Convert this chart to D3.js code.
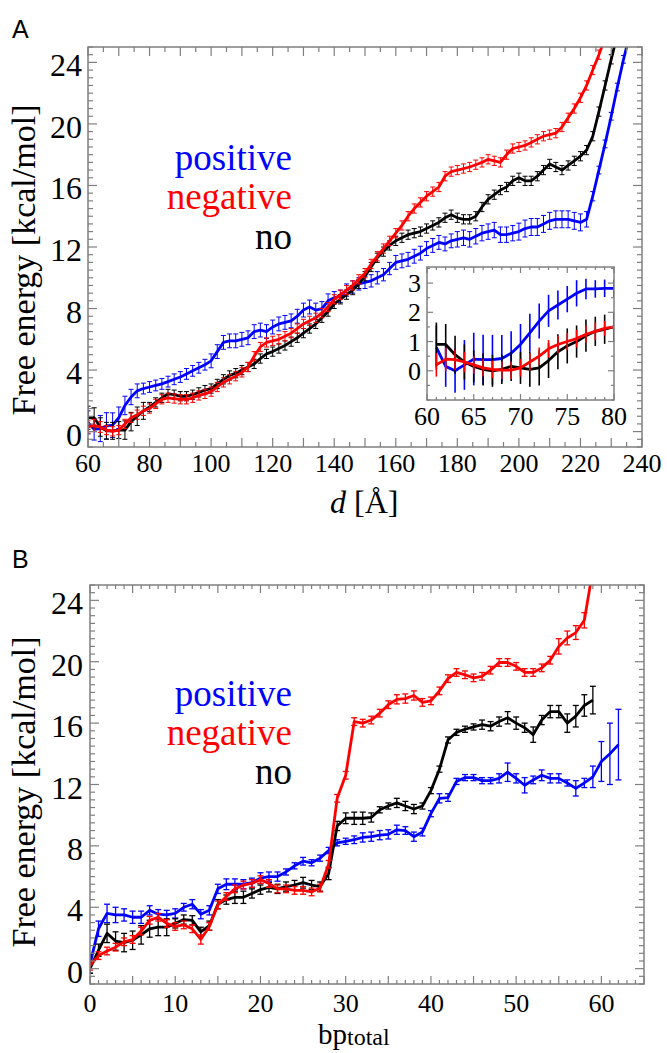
<!DOCTYPE html>
<html><head><meta charset="utf-8">
<script src="https://cdn.jsdelivr.net/npm/d3@7"></script>
<style>body{margin:0;background:#fff}svg{display:block}</style>
</head><body>
<script>
// ---------- Panel A data (d in Å, free energy kcal/mol) ----------
const dBlueA = d3.range(60, 237, 2);
const blueA = [0.6,0.15,0.2,0.38,0.42,0.9,1.7,2.25,2.65,2.8,
 2.9,3.0,3.1,3.25,3.4,3.55,3.75,3.95,4.15,4.35,
 4.6,5.2,5.8,5.9,5.9,6.0,6.1,6.5,6.6,6.5,
 6.8,7.0,7.1,7.2,7.5,7.9,8.1,7.9,8.0,8.5,
 8.7,8.8,9.2,9.4,9.6,9.7,9.8,10.0,10.2,10.6,
 11.0,11.1,11.2,11.4,11.6,11.9,12.1,12.3,12.2,12.4,
 12.5,12.6,12.5,12.7,12.9,13.0,13.1,12.8,12.8,12.9,
 13.0,13.2,13.3,13.3,13.5,13.7,13.8,13.8,13.8,13.7,
 13.6,13.8,15.3,17.0,18.7,20.5,22.4,24.2,25.8];
const blueErrA = [0.75,0.7,0.85,0.85,0.8,0.7,0.6,0.5,0.45,0.35,
 0.35,0.35,0.35,0.35,0.35,0.35,0.35,0.35,0.35,0.35,
 0.45,0.45,0.45,0.45,0.45,0.45,0.45,0.45,0.45,0.45,
 0.45,0.45,0.45,0.45,0.45,0.45,0.45,0.45,0.45,0.45,
 0.4,0.4,0.4,0.4,0.4,0.4,0.4,0.4,0.4,0.4,
 0.45,0.45,0.45,0.45,0.45,0.45,0.45,0.45,0.45,0.45,
 0.5,0.5,0.5,0.5,0.5,0.5,0.5,0.5,0.5,0.5,
 0.55,0.55,0.55,0.55,0.55,0.55,0.55,0.55,0.55,0.55,
 0.55,0.5,0.3,0.25,0.25,0.25,0.25,0.25,0.25];

const dRedA = d3.range(60, 229, 2);
const redA = [0.3,0.4,0.3,0.1,0.02,0.1,0.5,0.9,1.1,1.35,
 1.5,1.8,2.1,2.2,2.15,2.1,2.1,2.2,2.35,2.45,
 2.6,2.9,3.2,3.4,3.6,3.85,4.2,4.9,5.5,5.8,
 5.9,6.0,6.2,6.4,6.7,7.0,7.2,7.4,7.7,8.1,
 8.6,8.9,9.2,9.5,9.9,10.3,10.9,11.4,11.9,12.4,
 12.9,13.4,14.0,14.5,14.9,15.3,15.6,15.9,16.6,16.9,
 17.0,17.1,17.2,17.35,17.5,17.7,17.6,17.5,18.0,18.4,
 18.5,18.6,18.8,19.0,19.2,19.3,19.4,19.8,20.4,21.0,
 21.7,22.5,23.5,24.5,25.6];
const redErrA = [0.4,0.4,0.35,0.3,0.3,0.3,0.3,0.3,0.3,0.3,
 0.3,0.3,0.3,0.3,0.3,0.3,0.3,0.3,0.3,0.3,
 0.3,0.3,0.3,0.3,0.3,0.3,0.3,0.3,0.3,0.3,
 0.3,0.3,0.3,0.3,0.3,0.3,0.3,0.3,0.3,0.3,
 0.3,0.3,0.3,0.3,0.3,0.3,0.3,0.3,0.3,0.3,
 0.3,0.3,0.3,0.3,0.3,0.3,0.3,0.3,0.3,0.3,
 0.3,0.3,0.3,0.3,0.3,0.3,0.3,0.3,0.3,0.3,
 0.3,0.3,0.3,0.3,0.3,0.3,0.3,0.3,0.3,0.3,
 0.3,0.3,0.3,0.3,0.3];

const dBlackA = d3.range(60, 233, 2);
const blackA = [0.9,0.9,0.3,0.05,0.05,0.1,0.1,0.65,1.0,1.35,
 1.6,1.9,2.2,2.45,2.4,2.3,2.3,2.4,2.55,2.7,
 2.8,3.1,3.4,3.65,3.8,4.0,4.2,4.4,4.75,5.05,
 5.2,5.4,5.6,5.85,6.1,6.4,6.7,7.0,7.4,7.8,
 8.3,8.6,8.9,9.2,9.6,10.1,10.7,11.3,11.7,12.1,
 12.4,12.6,12.8,12.9,13.0,13.2,13.4,13.6,13.9,14.1,
 13.9,13.8,13.8,14.0,14.6,15.1,15.4,15.7,15.9,16.3,
 16.5,16.3,16.3,16.6,17.0,17.4,17.2,17.0,17.3,17.6,
 17.9,18.3,19.2,20.8,22.5,24.2,25.8];
const blackErrA = [0.75,0.65,0.6,0.55,0.55,0.55,0.6,0.6,0.6,0.55,
 0.3,0.3,0.3,0.3,0.3,0.3,0.3,0.3,0.3,0.3,
 0.3,0.3,0.3,0.3,0.3,0.3,0.3,0.3,0.3,0.3,
 0.3,0.3,0.3,0.3,0.3,0.3,0.3,0.3,0.3,0.3,
 0.3,0.3,0.3,0.3,0.3,0.3,0.3,0.3,0.3,0.3,
 0.3,0.3,0.3,0.3,0.3,0.3,0.3,0.3,0.3,0.3,
 0.3,0.3,0.3,0.3,0.3,0.3,0.3,0.3,0.3,0.3,
 0.3,0.3,0.3,0.3,0.3,0.3,0.3,0.3,0.3,0.3,
 0.3,0.3,0.3,0.3,0.3,0.3,0.3];

// ---------- Inset data (d = 61..80) ----------
const dInset = d3.range(61, 81, 1);
const blueIn = [0.8,0.15,0.0,0.2,0.4,0.38,0.38,0.42,0.6,0.9,1.3,1.7,2.05,2.25,2.45,2.65,2.8,2.8,2.82,2.82];
const blueInErr = [0.75,0.7,0.75,0.85,0.9,0.85,0.85,0.8,0.75,0.7,0.65,0.6,0.55,0.5,0.45,0.45,0.35,0.3,0.3,0.3];
const blackIn = [0.9,0.9,0.55,0.3,0.15,0.05,0.0,0.05,0.15,0.1,0.05,0.1,0.35,0.65,0.85,1.0,1.2,1.35,1.42,1.5];
const blackInErr = [0.75,0.7,0.65,0.6,0.55,0.55,0.55,0.5,0.5,0.55,0.6,0.6,0.6,0.6,0.6,0.55,0.55,0.5,0.5,0.5];
const redIn = [0.2,0.4,0.38,0.3,0.2,0.1,0.05,0.02,0.02,0.1,0.3,0.5,0.75,0.9,1.0,1.1,1.25,1.35,1.45,1.5];
const redInErr = [0.4,0.4,0.35,0.35,0.3,0.3,0.3,0.3,0.3,0.3,0.3,0.3,0.3,0.3,0.3,0.3,0.3,0.3,0.25,0.25];

// ---------- Panel B data (bp_total) ----------
const bpBlue = d3.range(0, 63, 1);
const blueB = [0.3,2.6,3.6,3.5,3.5,3.35,3.35,3.8,3.55,3.5,
 3.6,4.0,4.2,3.55,3.8,5.2,5.5,5.5,5.5,5.6,
 5.9,6.0,6.0,6.3,6.7,7.0,6.9,7.2,7.7,8.2,
 8.3,8.4,8.55,8.6,8.7,8.75,9.05,9.0,8.6,8.9,
 10.1,11.1,11.15,12.2,12.45,12.45,12.25,12.25,12.4,12.8,
 12.4,11.95,12.3,12.6,12.4,12.4,12.1,11.75,12.1,12.5,
 13.5,14.0,14.6];
const blueErrB = [0.6,0.5,0.6,0.5,0.4,0.4,0.4,0.3,0.3,0.3,
 0.3,0.25,0.3,0.3,0.3,0.3,0.35,0.35,0.3,0.3,
 0.35,0.3,0.3,0.2,0.2,0.25,0.2,0.2,0.2,0.2,
 0.2,0.25,0.3,0.3,0.3,0.3,0.3,0.25,0.3,0.25,
 0.2,0.3,0.25,0.2,0.2,0.2,0.2,0.2,0.3,0.6,
 0.3,0.5,0.25,0.35,0.3,0.3,0.2,0.5,0.3,0.7,
 1.3,2.0,2.3];

const bpBlack = d3.range(0, 60, 1);
const blackB = [0.0,1.2,2.3,1.8,1.7,1.85,2.2,2.6,2.7,2.7,
 2.95,3.2,3.15,2.4,2.8,4.2,4.5,4.65,4.65,4.9,
 5.15,5.3,5.2,5.35,5.45,5.6,5.45,5.35,6.2,9.3,
 9.8,9.8,9.8,9.85,10.35,10.6,10.8,10.6,10.4,10.6,
 11.6,13.0,14.9,15.4,15.6,15.75,15.9,15.8,16.1,16.35,
 16.0,15.7,15.25,16.2,16.75,16.75,16.0,16.45,17.15,17.5];
const blackErrB = [0.3,0.4,0.6,0.6,0.6,0.6,0.6,0.55,0.55,0.55,
 0.3,0.3,0.3,0.3,0.3,0.3,0.3,0.4,0.4,0.3,
 0.3,0.3,0.3,0.3,0.3,0.35,0.3,0.3,0.4,0.3,
 0.35,0.4,0.4,0.3,0.2,0.2,0.3,0.3,0.3,0.2,
 0.2,0.2,0.2,0.2,0.2,0.2,0.3,0.3,0.3,0.4,
 0.4,0.3,0.5,0.3,0.4,0.4,0.6,0.7,0.7,0.9];

const bpRed = d3.range(0, 60, 1);
const redB = [0.2,0.85,1.15,1.4,1.75,1.9,2.45,3.15,3.35,2.95,
 2.75,2.85,2.6,1.9,2.75,4.15,4.7,5.2,5.45,5.55,
 5.8,5.55,5.2,5.2,5.1,5.1,5.0,5.25,6.8,11.1,
 12.6,16.1,16.0,16.2,16.65,17.2,17.55,17.6,17.8,17.35,
 17.45,18.1,18.9,19.3,19.15,18.95,19.05,19.45,19.95,19.95,
 19.7,19.3,19.3,19.6,20.1,21.0,21.55,21.9,22.7,26.0];
const redErrB = [0.3,0.25,0.25,0.25,0.25,0.25,0.25,0.25,0.25,0.25,
 0.25,0.25,0.25,0.3,0.25,0.25,0.25,0.25,0.25,0.25,
 0.25,0.25,0.25,0.25,0.25,0.25,0.25,0.25,0.25,0.25,
 0.25,0.25,0.25,0.25,0.25,0.25,0.3,0.3,0.3,0.25,
 0.25,0.25,0.25,0.25,0.25,0.25,0.25,0.25,0.25,0.25,
 0.25,0.25,0.25,0.25,0.25,0.5,0.45,0.45,0.5,0.5];

const legendLabels = ["positive", "negative", "no"];
const legendColors = ["#0000ff", "#ff0000", "#000000"];
const yTicksMain = [0, 4, 8, 12, 16, 20, 24];
const xTicksA = [60, 80, 100, 120, 140, 160, 180, 200, 220, 240];
const xTicksB = [0, 10, 20, 30, 40, 50, 60];
const xTicksIn = [60, 65, 70, 75, 80];
const yTicksIn = [0, 1, 2, 3];

// ---------- drawing ----------
const SERIF = "'Liberation Serif','Times New Roman',serif";
const SANS = "'Liberation Sans',Arial,sans-serif";
const AXC = "#7f7f7f";
const svg = d3.select("body").append("svg").attr("width", 667).attr("height", 1053);

let clipId = 0;
function makeClip(x0, y0, w, h) {
  const id = "clip" + (clipId++);
  svg.append("clipPath").attr("id", id).append("rect")
    .attr("x", x0).attr("y", y0).attr("width", w).attr("height", h);
  return "url(#" + id + ")";
}

function ticksFrame(g, sx, sy, xMinor, xMajor, yMinor, yMajor, lx, LX, ly, LY) {
  const [x0, x1] = sx.range(), [y0, y1] = sy.range(); // y0 bottom, y1 top
  const tg = g.append("g").attr("stroke", AXC).attr("stroke-width", 1.2);
  const xs = xMinor.map(v => ({ v, L: xMajor.includes(v) ? LX : lx }));
  tg.selectAll("line.xb").data(xs).join("line").attr("class", "xb")
    .attr("x1", d => sx(d.v)).attr("x2", d => sx(d.v)).attr("y1", y0).attr("y2", d => y0 - d.L);
  tg.selectAll("line.xt").data(xs).join("line").attr("class", "xt")
    .attr("x1", d => sx(d.v)).attr("x2", d => sx(d.v)).attr("y1", y1).attr("y2", d => y1 + d.L);
  const ys = yMinor.map(v => ({ v, L: yMajor.includes(v) ? LY : ly }));
  tg.selectAll("line.yl").data(ys).join("line").attr("class", "yl")
    .attr("y1", d => sy(d.v)).attr("y2", d => sy(d.v)).attr("x1", x0).attr("x2", d => x0 + d.L);
  tg.selectAll("line.yr").data(ys).join("line").attr("class", "yr")
    .attr("y1", d => sy(d.v)).attr("y2", d => sy(d.v)).attr("x1", x1).attr("x2", d => x1 - d.L);
  g.append("rect").attr("x", x0).attr("y", y1).attr("width", x1 - x0).attr("height", y0 - y1)
    .attr("fill", "none").attr("stroke", AXC).attr("stroke-width", 1.5);
}

function series(g, xs, ys, es, sx, sy, color, lw, cap, ebw) {
  const pts = xs.map((x, i) => ({ x, y: ys[i], e: es[i] }));
  const eg = g.append("g").attr("stroke", color).attr("stroke-width", ebw);
  eg.selectAll("line.v").data(pts).join("line").attr("class", "v")
    .attr("x1", d => sx(d.x)).attr("x2", d => sx(d.x))
    .attr("y1", d => sy(d.y - d.e)).attr("y2", d => sy(d.y + d.e));
  if (cap > 0) {
    eg.selectAll("line.ct").data(pts).join("line").attr("class", "ct")
      .attr("x1", d => sx(d.x) - cap).attr("x2", d => sx(d.x) + cap)
      .attr("y1", d => sy(d.y + d.e)).attr("y2", d => sy(d.y + d.e));
    eg.selectAll("line.cb").data(pts).join("line").attr("class", "cb")
      .attr("x1", d => sx(d.x) - cap).attr("x2", d => sx(d.x) + cap)
      .attr("y1", d => sy(d.y - d.e)).attr("y2", d => sy(d.y - d.e));
  }
  g.append("path").datum(pts).attr("fill", "none").attr("stroke", color)
    .attr("stroke-width", lw).attr("stroke-linejoin", "round")
    .attr("d", d3.line().x(d => sx(d.x)).y(d => sy(d.y)));
}

function yLabel(cx, cy) {
  svg.append("text").attr("transform", `translate(${cx},${cy}) rotate(-90)`)
    .attr("text-anchor", "middle").attr("font-family", SERIF).attr("font-size", 34)
    .attr("fill", "#000").text("Free energy [kcal/mol]");
}

function legend(xRight, baselines) {
  svg.append("g").selectAll("text").data(legendLabels).join("text")
    .attr("x", xRight).attr("y", (d, i) => baselines[i])
    .attr("text-anchor", "end").attr("font-family", SERIF).attr("font-size", 37)
    .attr("fill", (d, i) => legendColors[i]).text(d => d);
}

function range(a, b, s) { return d3.range(a, b + s / 2, s).map(v => +v.toFixed(3)); }

// ===== Panel A =====
const sxA = d3.scaleLinear().domain([60, 240]).range([88, 642]);
const syA = d3.scaleLinear().domain([-1, 25]).range([447, 47]);
const gA = svg.append("g");
const plotA = gA.append("g").attr("clip-path", makeClip(88, 47, 554, 400));
series(plotA, dBlueA, blueA, blueErrA, sxA, syA, "#0000ff", 2.8, 2.5, 1);
series(plotA, dBlackA, blackA, blackErrA, sxA, syA, "#000000", 2.8, 2.5, 1);
series(plotA, dRedA, redA, redErrA, sxA, syA, "#ff0000", 2.8, 2.5, 1);
ticksFrame(gA, sxA, syA, range(60, 240, 5), range(60, 240, 10), range(-1, 25, 0.5), yTicksMain, 5, 9, 5, 9);
gA.append("g").selectAll("text").data(yTicksMain).join("text")
  .attr("x", 82).attr("y", d => syA(d) + 14).attr("text-anchor", "end")
  .attr("font-family", SERIF).attr("font-size", 32).text(d => d);
gA.append("g").selectAll("text").data(xTicksA).join("text")
  .attr("x", d => sxA(d)).attr("y", 472).attr("text-anchor", "middle")
  .attr("font-family", SERIF).attr("font-size", 26).text(d => d);
const xlA = svg.append("text").attr("x", 330).attr("y", 513).attr("font-family", SERIF).attr("font-size", 32);
xlA.append("tspan").attr("font-style", "italic").text("d");
xlA.append("tspan").text(" [Å]");
yLabel(35, 260);
legend(292, [170, 209, 249]);
svg.append("text").attr("x", 12).attr("y", 38).attr("font-family", SANS).attr("font-size", 25).text("A");

// ----- Inset -----
const sxI = d3.scaleLinear().domain([60, 80]).range([427, 614]);
const syI = d3.scaleLinear().domain([-1, 3.55]).range([400, 267]);
const gI = svg.append("g");
gI.append("rect").attr("x", 427).attr("y", 267).attr("width", 187).attr("height", 133).attr("fill", "#fff");
const plotI = gI.append("g").attr("clip-path", makeClip(427, 267, 187, 133));
series(plotI, dInset, blueIn, blueInErr, sxI, syI, "#0000ff", 2.8, 0, 1.6);
series(plotI, dInset, blackIn, blackInErr, sxI, syI, "#000000", 2.8, 0, 1.6);
series(plotI, dInset, redIn, redInErr, sxI, syI, "#ff0000", 2.8, 0, 1.6);
ticksFrame(gI, sxI, syI, range(60, 80, 1), xTicksIn, range(-1, 3.5, 0.5), yTicksIn, 3, 6, 3, 6);
gI.append("g").selectAll("text").data(yTicksIn).join("text")
  .attr("x", 421).attr("y", d => syI(d) + 9).attr("text-anchor", "end")
  .attr("font-family", SERIF).attr("font-size", 26).text(d => d);
gI.append("g").selectAll("text").data(xTicksIn).join("text")
  .attr("x", d => sxI(d)).attr("y", 425).attr("text-anchor", "middle")
  .attr("font-family", SERIF).attr("font-size", 26).text(d => d);

// ===== Panel B =====
const sxB = d3.scaleLinear().domain([0, 65]).range([90, 644]);
const syB = d3.scaleLinear().domain([-1, 25]).range([984, 585]);
const gB = svg.append("g");
const plotB = gB.append("g").attr("clip-path", makeClip(90, 585, 554, 399));
series(plotB, bpBlue, blueB, blueErrB, sxB, syB, "#0000ff", 2.8, 3, 1.3);
series(plotB, bpBlack, blackB, blackErrB, sxB, syB, "#000000", 2.8, 3, 1.3);
series(plotB, bpRed, redB, redErrB, sxB, syB, "#ff0000", 2.8, 3, 1.3);
ticksFrame(gB, sxB, syB, range(0, 65, 1), range(0, 65, 5), range(-1, 25, 0.5), yTicksMain, 4, 8, 5, 9);
gB.append("g").selectAll("text").data(yTicksMain).join("text")
  .attr("x", 83).attr("y", d => syB(d) + 14).attr("text-anchor", "end")
  .attr("font-family", SERIF).attr("font-size", 32).text(d => d);
gB.append("g").selectAll("text").data(xTicksB).join("text")
  .attr("x", d => sxB(d)).attr("y", 1012).attr("text-anchor", "middle")
  .attr("font-family", SERIF).attr("font-size", 26).text(d => d);
const xlB = svg.append("text").attr("x", 318).attr("y", 1044).attr("font-family", SERIF).attr("font-size", 29);
xlB.append("tspan").text("bp");
xlB.append("tspan").attr("font-size", 24).attr("dy", 1).text("total");
yLabel(35, 792);
legend(292, [706, 745, 784]);
svg.append("text").attr("x", 12).attr("y", 568).attr("font-family", SANS).attr("font-size", 25).text("B");
</script>
</body></html>
